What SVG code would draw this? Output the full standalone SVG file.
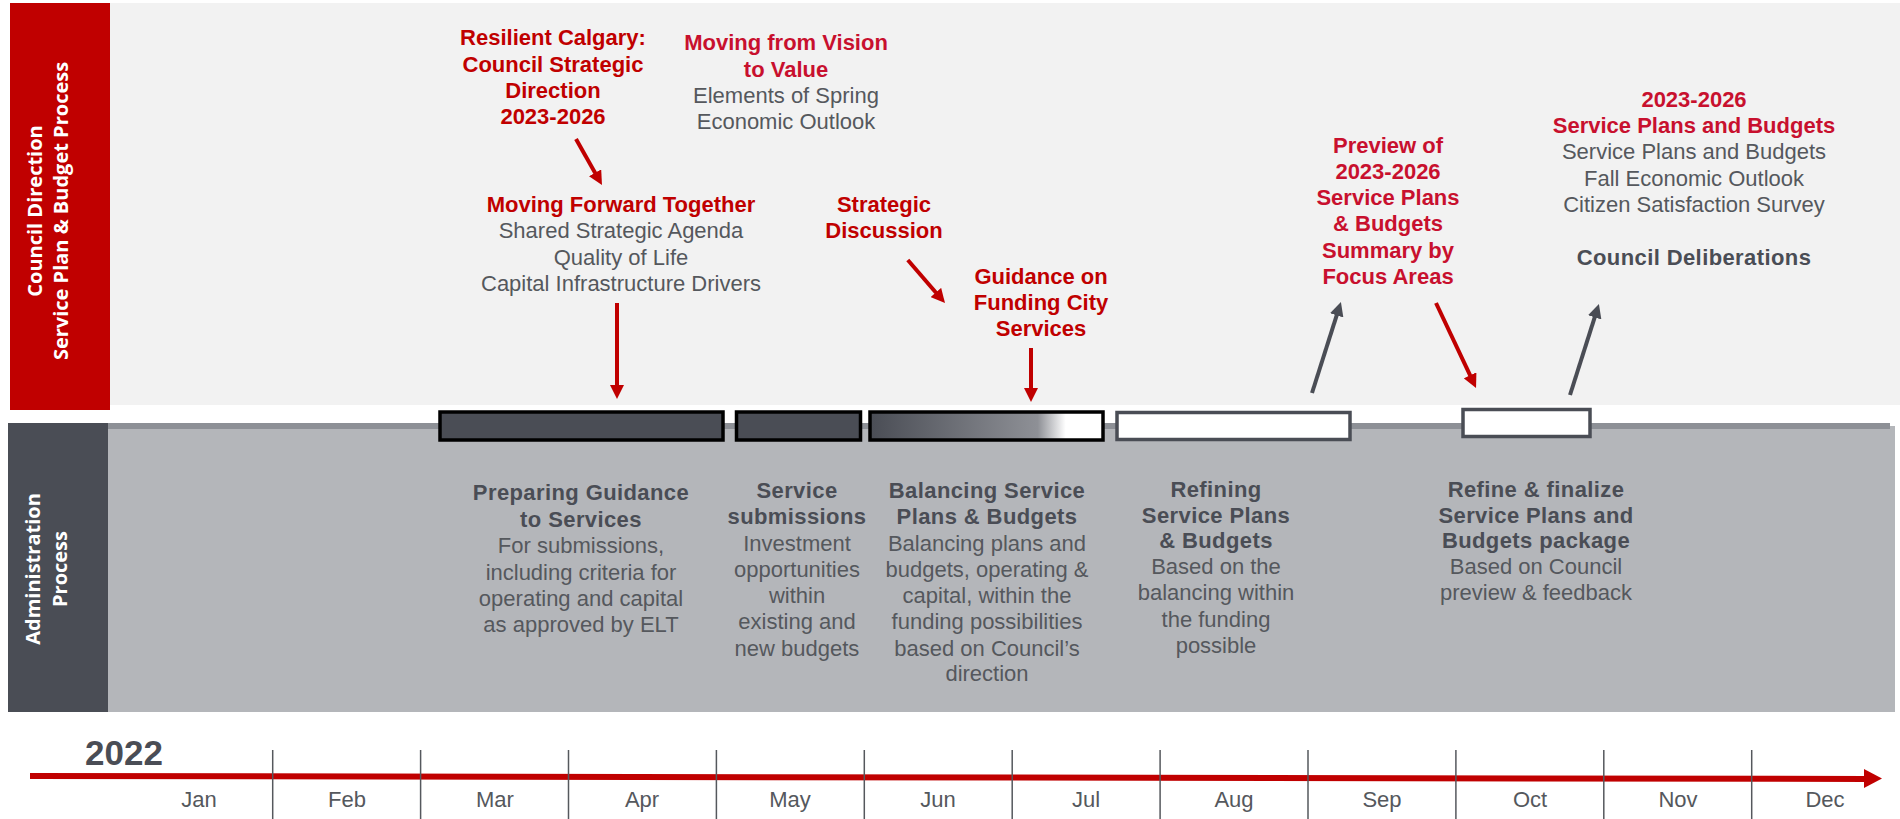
<svg xmlns="http://www.w3.org/2000/svg" width="1900" height="819" viewBox="0 0 1900 819">
<style>
.side{font-family:"Open Sans","DejaVu Sans",sans-serif;font-weight:700;font-size:20px;fill:#ffffff;text-anchor:middle}
.tr{font-family:"Liberation Sans",Arial,sans-serif;font-weight:700;font-size:22px;fill:#c00000;text-anchor:middle}
.tc{font-family:"Liberation Sans",Arial,sans-serif;font-weight:700;font-size:22px;fill:#c8102e;text-anchor:middle}
.tg{font-family:"Liberation Sans",Arial,sans-serif;font-size:22px;fill:#55585d;text-anchor:middle}
.tb{font-family:"Liberation Sans",Arial,sans-serif;font-weight:700;font-size:22px;fill:#4a4d55;text-anchor:middle;letter-spacing:0.4px}
.mon{font-family:"Liberation Sans",Arial,sans-serif;font-size:22px;fill:#55585d;text-anchor:middle}
.yr{font-family:"Liberation Sans",Arial,sans-serif;font-weight:700;font-size:35px;fill:#4a4d55}
.ar{fill:none;stroke:#c00000;stroke-width:4}
.ag{fill:none;stroke:#4a4d55;stroke-width:4}
.tick{stroke:#55585d;stroke-width:1.5}
</style>
<defs>
<marker id="hr" markerUnits="userSpaceOnUse" markerWidth="14" markerHeight="14" viewBox="0 0 14 14" refX="1" refY="7" orient="auto"><path d="M0,0 L14,7 L0,14 z" fill="#c00000"/></marker>
<marker id="hg" markerUnits="userSpaceOnUse" markerWidth="14" markerHeight="14" viewBox="0 0 14 14" refX="1" refY="7" orient="auto"><path d="M0,0 L14,7 L0,14 z" fill="#4a4d55"/></marker>
<linearGradient id="grad" x1="0" y1="0" x2="1" y2="0">
<stop offset="0" stop-color="#4a4d55"/><stop offset="0.72" stop-color="#8e9096"/><stop offset="0.84" stop-color="#ffffff"/><stop offset="1" stop-color="#ffffff"/>
</linearGradient>
</defs>

<!-- backgrounds -->
<g id="lane-council">
<rect x="110" y="3" width="1790" height="402" fill="#f2f2f2"/>
<rect x="10" y="3" width="100" height="407" fill="#c00000"/>
<g transform="translate(46,211) rotate(-90)">
<text class="side" x="0" y="-4">Council Direction</text>
<text class="side" x="0" y="22">Service Plan &amp; Budget Process</text>
</g>
</g>
<g id="lane-admin">
<rect x="108" y="426" width="1787" height="286" fill="#b4b6ba"/>
<rect x="108" y="423" width="1782" height="6" fill="#8d9096"/>
<rect x="8" y="423" width="100" height="289" fill="#4a4d55"/>
<g transform="translate(44,569) rotate(-90)">
<text class="side" x="0" y="-4">Administration</text>
<text class="side" x="0" y="23">Process</text>
</g>
</g>

<!-- bars -->
<g id="bar1"><rect x="440" y="412" width="283" height="28" fill="#4a4d55" stroke="#000" stroke-width="3.5"/></g>
<g id="bar2"><rect x="736.5" y="412" width="124" height="28" fill="#4a4d55" stroke="#000" stroke-width="3.5"/></g>
<g id="bar3"><rect x="870" y="412" width="233" height="28" fill="url(#grad)" stroke="#000" stroke-width="3.5"/></g>
<g id="bar4"><rect x="1117" y="412.5" width="233" height="27" fill="#ffffff" stroke="#4a4d55" stroke-width="3.5"/></g>
<g id="bar5"><rect x="1463" y="409.5" width="127" height="27" fill="#ffffff" stroke="#4a4d55" stroke-width="3.5"/></g>

<!-- council nodes -->
<g id="resilient">
<text class="tr" x="553" y="45">Resilient Calgary:</text>
<text class="tr" x="553" y="72">Council Strategic</text>
<text class="tr" x="553" y="98">Direction</text>
<text class="tr" x="553" y="124">2023-2026</text>
</g>
<g id="vision">
<text class="tc" x="786" y="50">Moving from Vision</text>
<text class="tc" x="786" y="77">to Value</text>
<text class="tg" x="786" y="103">Elements of Spring</text>
<text class="tg" x="786" y="129">Economic Outlook</text>
</g>
<g id="forward">
<text class="tr" x="621" y="212">Moving Forward Together</text>
<text class="tg" x="621" y="238">Shared Strategic Agenda</text>
<text class="tg" x="621" y="265">Quality of Life</text>
<text class="tg" x="621" y="291">Capital Infrastructure Drivers</text>
</g>
<g id="strategic">
<text class="tr" x="884" y="212">Strategic</text>
<text class="tr" x="884" y="238">Discussion</text>
</g>
<g id="guidance">
<text class="tr" x="1041" y="284">Guidance on</text>
<text class="tr" x="1041" y="310">Funding City</text>
<text class="tr" x="1041" y="336">Services</text>
</g>
<g id="preview">
<text class="tc" x="1388" y="153">Preview of</text>
<text class="tc" x="1388" y="179">2023-2026</text>
<text class="tc" x="1388" y="205">Service Plans</text>
<text class="tc" x="1388" y="231">&amp; Budgets</text>
<text class="tc" x="1388" y="258">Summary by</text>
<text class="tc" x="1388" y="284">Focus Areas</text>
</g>
<g id="final">
<text class="tc" x="1694" y="107">2023-2026</text>
<text class="tc" x="1694" y="133">Service Plans and Budgets</text>
<text class="tg" x="1694" y="159">Service Plans and Budgets</text>
<text class="tg" x="1694" y="186">Fall Economic Outlook</text>
<text class="tg" x="1694" y="212">Citizen Satisfaction Survey</text>
<text class="tb" x="1694" y="265">Council Deliberations</text>
</g>

<!-- admin nodes -->
<g id="preparing">
<text class="tb" x="581" y="500">Preparing Guidance</text>
<text class="tb" x="581" y="527">to Services</text>
<text class="tg" x="581" y="553">For submissions,</text>
<text class="tg" x="581" y="580">including criteria for</text>
<text class="tg" x="581" y="606">operating and capital</text>
<text class="tg" x="581" y="632">as approved by ELT</text>
</g>
<g id="submissions">
<text class="tb" x="797" y="498">Service</text>
<text class="tb" x="797" y="524">submissions</text>
<text class="tg" x="797" y="551">Investment</text>
<text class="tg" x="797" y="577">opportunities</text>
<text class="tg" x="797" y="603">within</text>
<text class="tg" x="797" y="629">existing and</text>
<text class="tg" x="797" y="656">new budgets</text>
</g>
<g id="balancing">
<text class="tb" x="987" y="498">Balancing Service</text>
<text class="tb" x="987" y="524">Plans &amp; Budgets</text>
<text class="tg" x="987" y="551">Balancing plans and</text>
<text class="tg" x="987" y="577">budgets, operating &amp;</text>
<text class="tg" x="987" y="603">capital, within the</text>
<text class="tg" x="987" y="629">funding possibilities</text>
<text class="tg" x="987" y="656">based on Council’s</text>
<text class="tg" x="987" y="681">direction</text>
</g>
<g id="refining">
<text class="tb" x="1216" y="497">Refining</text>
<text class="tb" x="1216" y="523">Service Plans</text>
<text class="tb" x="1216" y="548">&amp; Budgets</text>
<text class="tg" x="1216" y="574">Based on the</text>
<text class="tg" x="1216" y="600">balancing within</text>
<text class="tg" x="1216" y="627">the funding</text>
<text class="tg" x="1216" y="653">possible</text>
</g>
<g id="refine-final">
<text class="tb" x="1536" y="497">Refine &amp; finalize</text>
<text class="tb" x="1536" y="523">Service Plans and</text>
<text class="tb" x="1536" y="548">Budgets package</text>
<text class="tg" x="1536" y="574">Based on Council</text>
<text class="tg" x="1536" y="600">preview &amp; feedback</text>
</g>

<!-- connectors -->
<g id="connectors">
<line class="ar" x1="576" y1="139" x2="595.6" y2="173.7" marker-end="url(#hr)"/>
<line class="ar" x1="617" y1="303" x2="617" y2="386" marker-end="url(#hr)"/>
<line class="ar" x1="907.8" y1="260" x2="936.5" y2="293.2" marker-end="url(#hr)"/>
<line class="ar" x1="1031" y1="348" x2="1031" y2="389" marker-end="url(#hr)"/>
<line class="ag" x1="1312" y1="393" x2="1337" y2="314.4" marker-end="url(#hg)"/>
<line class="ar" x1="1436" y1="303" x2="1470.5" y2="376.2" marker-end="url(#hr)"/>
<line class="ag" x1="1570" y1="395" x2="1595" y2="316.4" marker-end="url(#hg)"/>
</g>

<!-- timeline -->
<g id="timeline">
<line x1="30" y1="776" x2="1866" y2="779" stroke="#c00000" stroke-width="6"/>
<polygon points="1864,769 1882,778.5 1864,788" fill="#c00000"/>
<line class="tick" x1="272.7" y1="750" x2="272.7" y2="819"/>
<line class="tick" x1="420.6" y1="750" x2="420.6" y2="819"/>
<line class="tick" x1="568.5" y1="750" x2="568.5" y2="819"/>
<line class="tick" x1="716.4" y1="750" x2="716.4" y2="819"/>
<line class="tick" x1="864.3" y1="750" x2="864.3" y2="819"/>
<line class="tick" x1="1012.2" y1="750" x2="1012.2" y2="819"/>
<line class="tick" x1="1160.1" y1="750" x2="1160.1" y2="819"/>
<line class="tick" x1="1308" y1="750" x2="1308" y2="819"/>
<line class="tick" x1="1455.9" y1="750" x2="1455.9" y2="819"/>
<line class="tick" x1="1603.8" y1="750" x2="1603.8" y2="819"/>
<line class="tick" x1="1751.7" y1="750" x2="1751.7" y2="819"/>
<text class="yr" x="85" y="765">2022</text>
<text class="mon" x="199" y="807">Jan</text>
<text class="mon" x="347" y="807">Feb</text>
<text class="mon" x="495" y="807">Mar</text>
<text class="mon" x="642" y="807">Apr</text>
<text class="mon" x="790" y="807">May</text>
<text class="mon" x="938" y="807">Jun</text>
<text class="mon" x="1086" y="807">Jul</text>
<text class="mon" x="1234" y="807">Aug</text>
<text class="mon" x="1382" y="807">Sep</text>
<text class="mon" x="1530" y="807">Oct</text>
<text class="mon" x="1678" y="807">Nov</text>
<text class="mon" x="1825" y="807">Dec</text>
</g>
</svg>
